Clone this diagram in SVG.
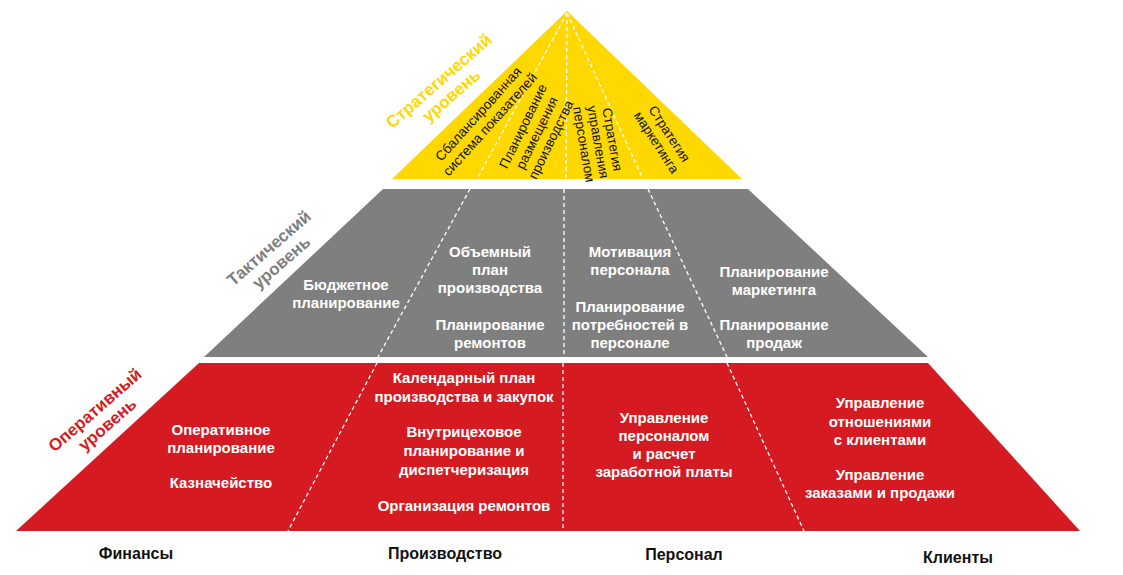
<svg xmlns="http://www.w3.org/2000/svg" width="1123" height="575" viewBox="0 0 1123 575">
<style>
.band-y{fill:#FFD800}
.band-g{fill:#7F7F7F}
.band-r{fill:#D51A21}
.dash{stroke:#FFFFFF;stroke-width:1.3;stroke-dasharray:4 3;fill:none}
.wt{font-family:"Liberation Sans",Arial,sans-serif;font-weight:bold;font-size:15px;fill:#FFFFFF;text-anchor:middle}
.yt{font-family:"Liberation Sans",Arial,sans-serif;font-size:13.5px;fill:#111111;text-anchor:middle}
.lvl{font-family:"Liberation Sans",Arial,sans-serif;font-weight:bold;font-size:17px;text-anchor:middle}
.col{font-family:"Liberation Sans",Arial,sans-serif;font-weight:bold;font-size:16px;fill:#111111;text-anchor:middle}
</style>
<rect width="1123" height="575" fill="#FFFFFF"/>
<g id="strategic">
<polygon class="band-y" points="567,11 742,179 392,179"/>
</g>
<g id="tactical">
<polygon class="band-g" points="383,189 748,189 928,357 204,357"/>
</g>
<g id="operational">
<polygon class="band-r" points="199,363 928,363 1080,531 16,531"/>
</g>
<g id="connectors">
<line class="dash" x1="567" y1="13" x2="477" y2="179"/>
<line class="dash" x1="567" y1="13" x2="566" y2="179"/>
<line class="dash" x1="567" y1="13" x2="643" y2="179"/>
<line class="dash" x1="470" y1="189" x2="378" y2="357"/>
<line class="dash" x1="564" y1="189" x2="564" y2="357"/>
<line class="dash" x1="648" y1="189" x2="727" y2="357"/>
<line class="dash" x1="377" y1="363" x2="288" y2="531"/>
<line class="dash" x1="563" y1="363" x2="563" y2="531"/>
<line class="dash" x1="727" y1="363" x2="804" y2="531"/>
</g>
<g id="level-labels">
<text class="lvl" fill="#FFD800" transform="translate(445,88) rotate(-41)"><tspan x="0" y="-3.5">Стратегический</tspan><tspan x="0" y="15.5">уровень</tspan></text>
<text class="lvl" fill="#7F7F7F" transform="translate(275,255) rotate(-41)"><tspan x="0" y="-3.5">Тактический</tspan><tspan x="0" y="15.5">уровень</tspan></text>
<text class="lvl" fill="#D51A21" transform="translate(101,417) rotate(-41)"><tspan x="0" y="-3.5">Оперативный</tspan><tspan x="0" y="15.5">уровень</tspan></text>
</g>
<g id="strategic-items">
<text class="yt" transform="translate(484,119) rotate(-48)"><tspan x="0" y="-3">Сбалансированная</tspan><tspan x="0" y="12.5">система показателей</tspan></text>
<text class="yt" transform="translate(537,133) rotate(-64)"><tspan x="0" y="-11">Планирование</tspan><tspan x="0" y="4.5">размещения</tspan><tspan x="0" y="20">производства</tspan></text>
<text class="yt" transform="translate(598,142) rotate(80)"><tspan x="0" y="-10">Стратегия</tspan><tspan x="0" y="4.5">управления</tspan><tspan x="0" y="19">персоналом</tspan></text>
<text class="yt" transform="translate(663,138) rotate(57)"><tspan x="0" y="-3">Стратегия</tspan><tspan x="0" y="12.5">маркетинга</tspan></text>
</g>
<g id="tactical-finance">
<text class="wt"><tspan x="346" y="290">Бюджетное</tspan><tspan x="346" y="308">планирование</tspan></text>
</g>
<g id="tactical-production">
<text class="wt"><tspan x="490" y="257">Объемный</tspan><tspan x="490" y="275">план</tspan><tspan x="490" y="293">производства</tspan></text>
<text class="wt"><tspan x="490" y="330">Планирование</tspan><tspan x="490" y="348">ремонтов</tspan></text>
</g>
<g id="tactical-personnel">
<text class="wt"><tspan x="630" y="257">Мотивация</tspan><tspan x="630" y="275">персонала</tspan></text>
<text class="wt"><tspan x="630" y="312">Планирование</tspan><tspan x="630" y="330">потребностей в</tspan><tspan x="630" y="348">персонале</tspan></text>
</g>
<g id="tactical-clients">
<text class="wt"><tspan x="774" y="277">Планирование</tspan><tspan x="774" y="295">маркетинга</tspan></text>
<text class="wt"><tspan x="774" y="330">Планирование</tspan><tspan x="774" y="348">продаж</tspan></text>
</g>
<g id="operational-finance">
<text class="wt"><tspan x="221" y="435">Оперативное</tspan><tspan x="221" y="453">планирование</tspan></text>
<text class="wt"><tspan x="221" y="488">Казначейство</tspan></text>
</g>
<g id="operational-production">
<text class="wt"><tspan x="464" y="383">Календарный план</tspan><tspan x="464" y="402">производства и закупок</tspan></text>
<text class="wt"><tspan x="464" y="437">Внутрицеховое</tspan><tspan x="464" y="456">планирование и</tspan><tspan x="464" y="475">диспетчеризация</tspan></text>
<text class="wt"><tspan x="464" y="511">Организация ремонтов</tspan></text>
</g>
<g id="operational-personnel">
<text class="wt"><tspan x="664" y="423">Управление</tspan><tspan x="664" y="441">персоналом</tspan><tspan x="664" y="459">и расчет</tspan><tspan x="664" y="477">заработной платы</tspan></text>
</g>
<g id="operational-clients">
<text class="wt"><tspan x="880" y="408">Управление</tspan><tspan x="880" y="427">отношениями</tspan><tspan x="880" y="445">с клиентами</tspan></text>
<text class="wt"><tspan x="880" y="480">Управление</tspan><tspan x="880" y="498">заказами и продажи</tspan></text>
</g>
<g id="columns">
<text class="col" x="136" y="559">Финансы</text>
<text class="col" x="445" y="559">Производство</text>
<text class="col" x="684" y="560">Персонал</text>
<text class="col" x="958" y="563">Клиенты</text>
</g>
</svg>
